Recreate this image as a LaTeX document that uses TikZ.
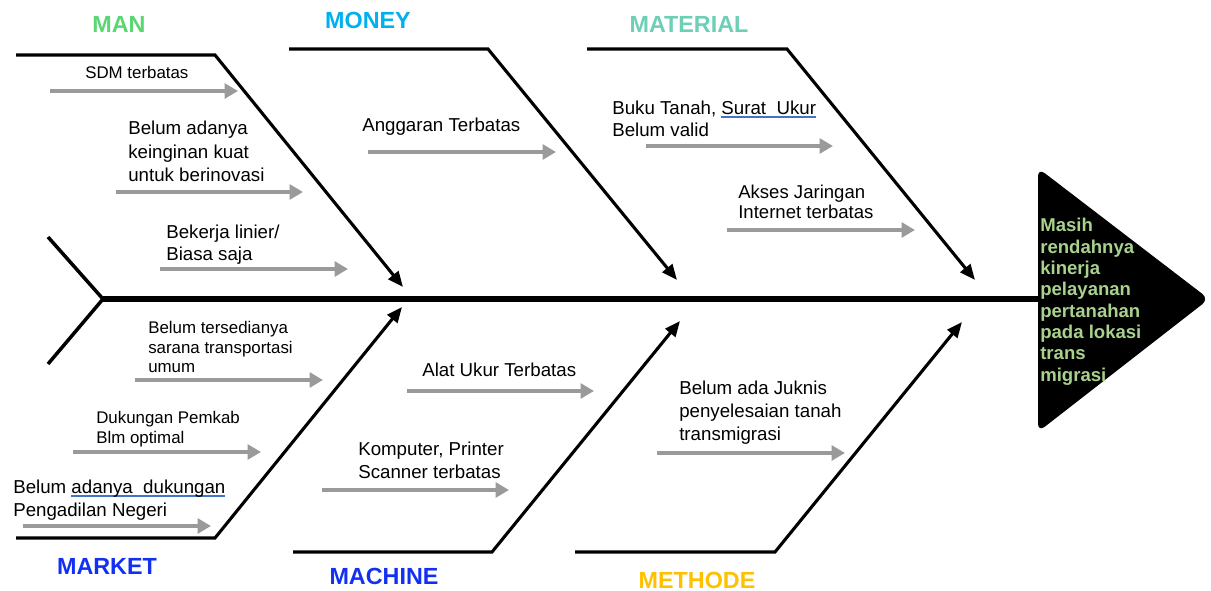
\documentclass[tikz,border=0pt]{standalone}
\usepackage{fontspec}
\setmainfont{Liberation Sans}
\usetikzlibrary{arrows.meta,calc,positioning}
\definecolor{manc}{HTML}{5AD672}
\definecolor{moneyc}{HTML}{00B0F0}
\definecolor{materialc}{HTML}{6CCFB6}
\definecolor{marketc}{HTML}{1230F2}
\definecolor{methodc}{HTML}{FFC000}
\definecolor{effectc}{HTML}{A9D18E}
\definecolor{causegray}{HTML}{9A9A9A}
\definecolor{spellblue}{HTML}{4472C4}
\newlength\spellw
\newcommand\spell[1]{\settowidth\spellw{#1}\rlap{\color{spellblue}\rule[-1.3pt]{\spellw}{.45pt}\kern-\spellw\rule[-2.3pt]{\spellw}{.45pt}}#1}

\begin{document}
\begin{tikzpicture}[x=.025cm,y=-.025cm,
 bone/.style={line width=2.2pt,-{Triangle[length=11pt,width=9pt]}},
 cause/.style={causegray,line width=2.4pt,-{Triangle[length=9.5pt,width=10.5pt]}},
 txt/.style 2 args={anchor=north west,inner sep=0pt,align=left,font=\fontsize{#1}{#2}\selectfont},
 cat/.style={font=\fontsize{16.6}{18}\selectfont\bfseries}]
 \useasboundingbox (0,0) rectangle (1211,591);
 % spine, tail and head
 \coordinate (tail) at (103,299);
 \coordinate (head) at (1038,299);
 \draw[line width=4.2pt] (tail) -- (head);
 \draw[line width=2.5pt] (48,237) -- (tail) -- (48,364);
 \fill[rounded corners=6pt] (1038,168) -- (1209,299) -- (1038,432) -- cycle;
 \node[anchor=north west,inner sep=0pt,align=left,text=effectc,
  font=\fontsize{13.2}{15.2}\selectfont\bfseries] (effect) at (1040,218)
  {Masih\\rendahnya\\kinerja\\pelayanan\\pertanahan\\pada lokasi\\trans\\migrasi};
 % bones
 \foreach \b/\xa/\xb/\ya/\xc/\yc in {man/16/215/55/403/287,money/289/488/49/677/280,
  material/587/787/49/975/280,market/16/215/538/402/307,
  machine/293/492/552/680/321,methode/575/775/552/962/322}{
  \coordinate (\b0) at (\xa,\ya);
  \coordinate (\b1) at (\xb,\ya);
  \coordinate (\b2) at (\xc,\yc);
  \draw[bone] (\b0) -- (\b1) -- (\b2);
 }
 % category labels
 \node[cat,text=manc] (man) at (119,24) {MAN};
 \node[cat,text=moneyc] (money) at (368,20) {MONEY};
 \node[cat,text=materialc] (material) at (689,24) {MATERIAL};
 \node[cat,text=marketc] (market) at (107,566) {MARKET};
 \node[cat,text=marketc] (machine) at (384,576) {MACHINE};
 \node[cat,text=methodc] (methode) at (697,580) {METHODE};
 % causes
 \node[txt={12}{15.6}] (sdm) at (85,66) {SDM terbatas};
 \node[txt={13.3}{16.7}] (inovasi) at (128,121) {Belum adanya\\keinginan kuat\\untuk berinovasi};
 \node[txt={13.3}{15.6}] (linier) at (166,225) {Bekerja linier/\\Biasa saja};
 \node[txt={13.3}{15.6}] (anggaran) at (362,118) {Anggaran Terbatas};
 \node[txt={13.3}{15.6}] (bukutanah) at (612,101) {Buku Tanah, \spell{Surat~ Ukur}\\Belum valid};
 \node[txt={13.2}{14.2}] (internet) at (738,185) {Akses Jaringan\\Internet terbatas};
 \node[txt={12}{13.9}] (transport) at (148,321) {Belum tersedianya\\sarana transportasi\\umum};
 \node[txt={12}{14.2}] (pemkab) at (96,411) {Dukungan Pemkab\\Blm optimal};
 \node[txt={13.3}{16.4}] (pengadilan) at (13,480) {Belum \spell{adanya~ dukungan}\\Pengadilan Negeri};
 \node[txt={13.3}{15.6}] (alatukur) at (422,363) {Alat Ukur Terbatas};
 \node[txt={13.3}{16.4}] (komputer) at (358,442) {Komputer, Printer\\Scanner terbatas};
 \node[txt={13.3}{16.4}] (juknis) at (679,381) {Belum ada Juknis\\penyelesaian tanah\\transmigrasi};
 \foreach \i/\xa/\xb/\y in {1/50/238/91,2/116/303/192,3/160/348/269,4/368/556/152,
  5/646/833/146,6/727/915/230,7/135/323/380,8/73/261/452,9/23/211/526,
  10/407/594/391,11/322/509/490,12/657/845/453}{
  \coordinate (s\i) at (\xa,\y);
  \coordinate (e\i) at (\xb,\y);
  \draw[cause] (s\i) -- (e\i);
 }
\end{tikzpicture}
\end{document}
